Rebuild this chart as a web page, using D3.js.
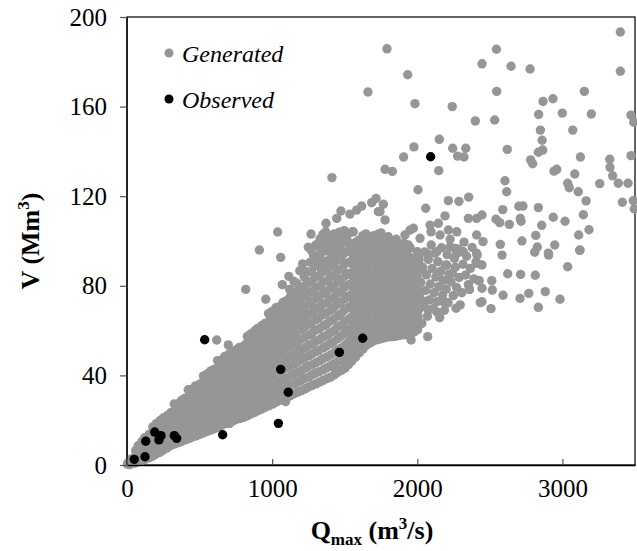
<!DOCTYPE html>
<html>
<head>
<meta charset="utf-8">
<script src="https://cdn.jsdelivr.net/npm/d3@7"></script>
<style>
  html, body { margin: 0; padding: 0; background: #fff; }
  svg { display: block; }
  text { font-family: "Liberation Serif", "Times New Roman", serif; }
</style>
</head>
<body>
<svg id="chart" width="637" height="551"></svg>
<script>
// ---------------- data (Qmax in m3/s, V in Mm3) ----------------
const xTicks = [0, 1000, 2000, 3000];
const yTicks = [0, 40, 80, 120, 160, 200];
const legendLabels = ["Generated", "Observed"];

// dense core of generated events, Q 0-1500
const generatedCore = [
[3,0.4],[9,1.1],[16,0.2],[22,0.3],[28,2.6],[33,1.4],[44,3.1],[57,0.9],[63,3.8],[60,6.4],
[97,1.6],[103,4.9],[99,8.3],[104,10.6],[148,3.2],[153,6.7],[147,10.1],[152,13.6],
[198,4.8],[203,8.1],[197,11.7],[204,15.2],[200,18.4],[248,6.6],[253,10.2],[247,13.9],[252,17.4],[249,21],
[302,8.7],[297,12.3],[303,15.9],[298,19.6],[301,23.3],[348,9.9],[353,13.6],[347,17.3],[352,21],[349,24.6],[354,27.4],
[402,11.2],[397,14.9],[403,18.6],[398,22.3],[401,26],[396,29.7],
[448,12.4],[453,16.1],[447,19.9],[452,23.6],[449,27.3],[454,31],[450,33.8],
[502,13.7],[497,17.4],[503,21.2],[498,24.9],[501,28.7],[496,32.4],[502,36.1],
[548,14.9],[553,18.7],[547,22.4],[552,26.2],[549,30],[554,33.7],[548,37.5],[551,40.6],
[602,16.2],[597,20],[603,23.8],[598,27.6],[601,31.4],[596,35.2],[603,39],[599,42.7],
[648,17.6],[653,21.4],[647,25.3],[652,29.1],[649,33],[654,36.8],[648,40.6],[651,44.4],[655,47],
[702,19.2],[697,23.1],[703,27],[698,30.9],[701,34.8],[696,38.7],[703,42.6],[699,46.4],[704,49.6],
[748,20.2],[753,24.1],[747,28.1],[752,32],[749,36],[754,39.9],[748,43.9],[751,47.8],[755,51.5],
[802,21.2],[797,25.2],[803,29.2],[798,33.2],[801,37.2],[796,41.2],[803,45.2],[799,49.2],[804,53.1],
[848,22.6],[853,26.7],[847,30.8],[852,34.9],[849,39],[854,43.1],[848,47.2],[851,51.3],[855,55.3],[850,58.4],
[902,24.2],[897,28.3],[903,32.5],[898,36.6],[901,40.8],[896,44.9],[903,49.1],[899,53.2],[904,57.3],[900,61],
[948,25.6],[953,29.8],[947,34],[952,38.2],[949,42.4],[954,46.6],[948,50.8],[951,55],[955,59.2],[950,63.2],
[1002,27.2],[997,31.4],[1003,35.7],[998,39.9],[1001,44.2],[996,48.4],[1003,52.7],[999,56.9],[1004,61.1],[1000,65.2],[996,68.4],
[1048,28.7],[1053,33],[1047,37.3],[1052,41.6],[1049,45.9],[1054,50.2],[1048,54.5],[1051,58.8],[1055,63.1],[1050,67.3],[1046,70.6],
[1102,30.2],[1097,34.6],[1103,39],[1098,43.4],[1101,47.8],[1096,52.2],[1103,56.6],[1099,61],[1104,65.3],[1100,69.6],[1096,73.2],
[1148,31.7],[1153,36.1],[1147,40.6],[1152,45.1],[1149,49.6],[1154,54.1],[1148,58.6],[1151,63],[1155,67.4],[1150,71.8],[1146,76],
[1202,33.2],[1197,37.7],[1203,42.3],[1198,46.9],[1201,51.5],[1196,56.1],[1203,60.7],[1199,65.2],[1204,69.7],[1200,74.2],[1196,78.6],
[1248,34.7],[1253,39.3],[1247,44],[1252,48.7],[1249,53.4],[1254,58.1],[1248,62.8],[1251,67.4],[1255,72],[1250,76.6],[1246,81.2],
[1302,36.2],[1297,40.9],[1303,45.7],[1298,50.5],[1301,55.3],[1296,60.1],[1303,64.9],[1299,69.6],[1304,74.3],[1300,79],[1296,83.7],
[1348,37.7],[1353,42.5],[1347,47.4],[1352,52.3],[1349,57.2],[1354,62.1],[1348,67],[1351,71.8],[1355,76.6],[1350,81.4],[1346,86.2],[1352,89],
[1402,39.2],[1397,44.1],[1403,49.1],[1398,54.1],[1401,59.1],[1396,64.1],[1403,69.1],[1399,74],[1404,78.9],[1400,83.8],[1396,88.6],[1401,91.8],
[1448,41.2],[1453,46.2],[1447,51.3],[1452,56.4],[1449,61.5],[1454,66.6],[1448,71.7],[1451,76.7],[1455,81.7],[1450,86.7],[1446,91.6],[1452,94.8],
[1502,43.2],[1497,48.3],[1503,53.5],[1498,58.7],[1501,63.9],[1496,69.1],[1503,74.3],[1499,79.4],[1504,84.5],[1500,89.6],[1496,94.6]
];

// further generated events filling the core, Q 75-1975
const generatedCoreB = [
[76,2.4],[74,5.6],[77,8.6],[126,2.5],[124,5.8],[127,9.2],[123,12.2],
[176,3.9],[174,7.4],[177,10.9],[173,14.4],[178,17],[226,5.6],[224,9.2],[227,12.8],[223,16.4],[228,19.8],
[276,7.6],[274,11.2],[277,14.9],[273,18.5],[278,22.1],[326,9.3],[324,12.9],[327,16.6],[323,20.3],[328,24],[325,27.2],
[376,10.5],[374,14.2],[377,17.9],[373,21.6],[378,25.3],[375,28.8],
[426,11.8],[424,15.5],[427,19.2],[423,23],[428,26.7],[425,30.4],[422,33.6],
[476,13],[474,16.8],[477,20.5],[473,24.3],[478,28],[475,31.8],[472,35.3],
[526,14.3],[524,18],[527,21.8],[523,25.6],[528,29.4],[525,33.2],[522,37],[527,39.8],
[576,15.5],[574,19.3],[577,23.1],[573,26.9],[578,30.7],[575,34.5],[572,38.3],[577,42],
[626,16.9],[624,20.7],[627,24.5],[623,28.4],[628,32.2],[625,36],[622,39.9],[627,43.7],[624,46.6],
[676,18.4],[674,22.3],[677,26.2],[673,30],[678,33.9],[675,37.8],[672,41.6],[677,45.5],[674,48.5],
[726,19.6],[724,23.6],[727,27.6],[723,31.5],[728,35.4],[725,39.3],[722,43.3],[727,47.2],[724,50.8],
[776,20.7],[774,24.7],[777,28.7],[773,32.7],[778,36.6],[775,40.6],[772,44.6],[777,48.5],[774,52.5],
[826,21.9],[824,25.9],[827,30],[823,34],[828,38.1],[825,42.1],[822,46.2],[827,50.2],[824,54.2],[829,57.4],
[876,23.4],[874,27.5],[877,31.6],[873,35.7],[878,39.8],[875,43.9],[872,48],[877,52.1],[874,56.2],[879,59.8],
[926,24.9],[924,29],[927,33.2],[923,37.4],[928,41.6],[925,45.8],[922,49.9],[927,54.1],[924,58.3],[929,62.2],
[976,26.4],[974,30.6],[977,34.8],[973,39],[978,43.3],[975,47.5],[972,51.8],[977,56],[974,60.2],[979,64.2],[975,67.6],
[1026,28],[1024,32.2],[1027,36.5],[1023,40.8],[1028,45.1],[1025,49.3],[1022,53.6],[1027,57.9],[1024,62.1],[1029,66.3],[1025,70.2],
[1076,29.5],[1074,33.8],[1077,38.2],[1073,42.5],[1078,46.9],[1075,51.2],[1072,55.6],[1077,59.9],[1074,64.2],[1079,68.5],[1075,72.6],
[1126,31],[1124,35.4],[1127,39.8],[1123,44.2],[1128,48.7],[1125,53.1],[1122,57.6],[1127,62],[1124,66.4],[1129,70.8],[1125,75.1],[1121,78.4],
[1176,32.5],[1174,37],[1177,41.5],[1173,46],[1178,50.5],[1175,55],[1172,59.6],[1177,64.1],[1174,68.6],[1179,73],[1175,77.4],[1171,81],
[1226,34],[1224,38.6],[1227,43.2],[1223,47.8],[1228,52.4],[1225,57],[1222,61.6],[1227,66.2],[1224,70.8],[1229,75.4],[1225,79.9],[1221,83.8],
[1276,35.5],[1274,40.2],[1277,44.8],[1273,49.5],[1278,54.2],[1275,58.9],[1272,63.5],[1277,68.2],[1274,72.9],[1279,77.5],[1275,82.1],[1271,86.2],
[1326,37],[1324,41.7],[1327,46.5],[1323,51.3],[1328,56.1],[1325,60.9],[1322,65.7],[1327,70.4],[1324,75.2],[1329,79.9],[1325,84.6],[1321,88.6],
[1376,38.5],[1374,43.3],[1377,48.2],[1373,53.1],[1378,58],[1375,62.9],[1372,67.8],[1377,72.6],[1374,77.5],[1379,82.3],[1375,87.1],[1371,91],
[1426,40.2],[1424,45.1],[1427,50.1],[1423,55.1],[1428,60.1],[1425,65.1],[1422,70.1],[1427,75],[1424,80],[1429,84.9],[1425,89.8],[1421,93.6],
[1476,42.2],[1474,47.2],[1477,52.3],[1473,57.4],[1478,62.5],[1475,67.6],[1472,72.7],[1477,77.7],[1474,82.8],[1479,87.8],[1475,92.8],[1471,96.5],
[1526,44.8],[1524,49.9],[1527,55],[1523,60.1],[1528,65.2],[1525,70.3],[1522,75.4],[1527,80.5],[1524,85.5],[1529,90.5],[1525,95.4],[1521,99],
[1576,48.2],[1574,53.4],[1577,58.6],[1573,63.8],[1578,69],[1575,74.2],[1572,79.3],[1577,84.4],[1574,89.5],[1579,94.5],[1575,99.3],
[1626,51.8],[1624,57],[1627,62.2],[1623,67.4],[1628,72.6],[1625,77.8],[1622,83],[1627,88.1],[1624,93.2],[1629,98.1],[1625,102.4],
[1676,54.5],[1674,59.7],[1677,65],[1673,70.3],[1678,75.6],[1675,80.8],[1672,86],[1677,91.2],[1674,96.3],[1679,101.2],
[1726,56],[1724,61.3],[1727,66.7],[1723,72],[1728,77.3],[1725,82.6],[1722,87.9],[1727,93.1],[1724,98.3],[1729,103],
[1776,56.8],[1774,62.2],[1777,67.6],[1773,73],[1778,78.4],[1775,83.8],[1772,89.2],[1777,94.5],[1774,99.8],
[1826,57.3],[1824,62.8],[1827,68.3],[1823,73.8],[1828,79.3],[1825,84.8],[1822,90.2],[1827,95.7],
[1876,57.8],[1874,63.3],[1877,68.9],[1873,74.5],[1878,80.1],[1875,85.7],[1872,91.3],[1877,96.6],
[1926,58.2],[1924,63.9],[1927,69.6],[1923,75.3],[1928,81],[1925,86.7],[1922,92.3],
[1976,59.3],[1974,65.1],[1977,70.9],[1973,76.7],[1978,82.5],[1975,88.2]
];

// in-between generated events in the Q 1500-2000 band and along the upper edge of the core
const generatedFill = [
[1562,48.8],[1560,53.7],[1563,58.7],[1561,63.7],[1564,68.7],[1560,73.7],[1563,78.7],[1561,83.6],[1564,88.5],[1560,93.3],
[1612,52.8],[1610,57.9],[1613,63],[1611,68.1],[1614,73.2],[1610,78.3],[1613,83.3],[1611,88.3],[1614,93.3],[1610,98],
[1662,56],[1660,61.1],[1663,66.2],[1661,71.4],[1664,76.6],[1660,81.8],[1663,86.9],[1661,92],[1664,97],
[1712,58.1],[1710,63.4],[1713,68.7],[1711,74],[1714,79.2],[1710,84.4],[1713,89.6],[1711,94.8],[1714,99.8],
[1762,59],[1760,64.3],[1763,69.7],[1761,75.1],[1764,80.5],[1760,85.8],[1763,91.1],[1761,96.3],[1764,101.3],
[1812,59.9],[1810,65.4],[1813,70.9],[1811,76.4],[1814,81.9],[1810,87.3],[1813,92.7],[1811,98],
[1862,60.2],[1860,65.7],[1863,71.3],[1861,76.9],[1864,82.5],[1860,88],[1863,93.5],[1861,98.5],
[1912,60.9],[1910,66.6],[1913,72.3],[1911,78],[1914,83.6],[1910,89.2],[1913,94.8],
[1962,61.2],[1960,66.9],[1963,72.7],[1961,78.5],[1964,84.3],[1960,90],
[2012,63.4],[2010,69.3],[2013,75.2],[2011,81],[2014,86.9],[2010,92.5],
[1262,90.5],[1285,93.8],[1310,92.1],[1322,97.6],[1338,94.9],[1356,99.8],[1375,96.2],[1392,101.4],[1410,98.3],[1428,103.2],
[1446,99.6],[1462,103.9],[1480,100.7],[1497,104.6],[1515,102.2],[1290,88.9],[1335,91.7],[1380,95.5],[1420,97.8],[1460,101.2],
[1240,86.3],[1270,95.8],[1300,98.2],[1350,103],[1330,101],[1070,80.5],[1115,84.2],[1150,81.9],[1190,86.7],[1210,89.8]
];

// medium density band, Q 1500-2430
const generatedMid = [
[1548,46.3],[1553,51.2],[1547,56.2],[1552,61.2],[1549,66.2],[1554,71.2],[1548,76.2],[1551,81.1],[1555,86],[1550,90.9],[1546,95.7],[1553,98.6],
[1602,50.2],[1597,55.3],[1603,60.4],[1598,65.5],[1601,70.6],[1596,75.7],[1603,80.8],[1599,85.8],[1604,90.8],[1600,95.8],[1596,100.3],
[1648,53.4],[1653,58.5],[1647,63.6],[1652,68.8],[1649,74],[1654,79.2],[1648,84.3],[1651,89.4],[1655,94.5],[1650,99.5],[1646,103.2],
[1702,55.5],[1697,60.7],[1703,66],[1698,71.3],[1701,76.6],[1696,81.8],[1703,87],[1699,92.2],[1704,97.3],[1700,102.2],
[1748,56.3],[1753,61.6],[1747,67],[1752,72.4],[1749,77.8],[1754,83.1],[1748,88.4],[1751,93.7],[1755,98.9],[1750,103.6],
[1802,57.2],[1797,62.6],[1803,68.1],[1798,73.6],[1801,79.1],[1796,84.6],[1803,90],[1799,95.4],[1804,100.7],
[1848,57.4],[1853,62.9],[1847,68.5],[1852,74.1],[1849,79.7],[1854,85.2],[1848,90.7],[1851,96.2],[1855,100.8],
[1902,58.1],[1897,63.7],[1903,69.4],[1898,75.1],[1901,80.8],[1896,86.4],[1903,92],[1899,97.5],
[1948,58.3],[1953,64],[1947,69.8],[1952,75.6],[1949,81.4],[1954,87.1],[1948,92.8],[1951,96.9],
[2002,60.4],[2006,66.3],[1997,72.2],[2003,78.1],[1999,84],[2005,89.8],[2001,95.2],
[2012,91.5],[2018,74.6],[2024,81.5],[2031,63.2],[2037,88.3],[2044,70.9],[2050,95.1],[2057,77.9],[2063,84.9],[2070,66.4],
[2076,91.8],[2083,73.7],[2089,80.8],[2096,98.2],[2102,87.7],[2109,69.8],[2115,76.9],[2122,94.6],[2128,83.9],[2135,72.9],
[2141,90.8],[2148,79.6],[2154,65.8],[2161,86.5],[2167,97],[2174,75.7],[2180,82.4],[2187,69.1],[2193,89.2],[2199,78.5],
[2206,93.9],[2212,72.4],[2219,85.2],[2226,100.8],[2232,81.8],[2241,85.6],[2248,75.6],[2256,92.2],[2262,88.3],[2270,79.3],
[2279,96.5],[2288,83.7],[2296,71.5],[2306,76.9],[2315,89.6],[2322,99.5],[2333,84.8],[2340,93.2],[2352,80.5],[2359,78.4],
[2366,87.8],[2378,97.1],[2390,83.1],[2404,90.6],[2412,93.7],[2425,82.3]
];

// scattered generated events (upper cloud and lower-right edge)
const generatedSparse = [
[1791,185.8],[2446,179.1],[1934,174.2],[1660,166.5],[1984,161.3],[2241,160],[2400,153.6],[2152,145.4],
[2545,185.6],[2646,178],[2777,176.8],[3399,193.3],[3399,175.8],[2547,166.8],[3151,166.8],[2866,162.3],[2935,163.5],
[2533,154],[2836,156.5],[2999,157.1],[3199,156.7],[3472,156.2],[3491,153],[2848,149.5],[3071,149.5],[2860,145],
[2781,136.2],[2795,134.5],[2834,139.6],[2864,140.6],[2620,140.9],[1977,142],[2244,141.4],[2334,141.4],[2278,137.9],[2322,137.5],
[1906,137.5],[2148,131.4],[1778,132],[1828,131.1],[3124,137.5],[3326,136.5],[3328,132.9],[3346,129.1],[3473,138.1],
[3385,125.8],[3452,125.8],[3257,125.6],[2942,131.2],[2961,132],[3085,129.9],[3036,125.8],[3047,123.8],[3109,122],
[2604,126.9],[2616,122],[2005,122.9],[3413,117.3],[3488,118],[3495,114.3],[3163,117.9],[3144,111.7],[3183,105],
[2937,110.6],[3018,108.8],[2834,114.9],[2857,107],[2699,115.5],[2728,115.6],[2589,114],[2542,109.7],[2568,108.2],
[2634,107.4],[2710,110.1],[2715,108.8],[2446,111.6],[2453,99.7],[2572,98.5],[2584,93.7],[2721,100],[2816,102.5],
[2827,97.3],[2809,95],[2903,94.6],[2947,98.2],[3119,95.8],[3112,102.7],
[1412,128.3],[1038,104],[1268,103.1],[1369,104.1],[1371,107.9],[1445,110.1],[1474,113.4],[1536,112],[1582,113.8],
[1617,115.6],[1686,117.1],[1716,119],[1732,113.1],[1559,104.1],[1697,102.2],[1766,116.4],[1743,113.1],[1778,109.4],
[2058,114.6],[2214,118],[2287,117.7],[2354,119.6],[2191,111.2],[2352,110.1],[2409,110.1],[2088,107.1],[2145,107.9],
[2095,104.1],[2157,102.7],[2214,104.9],[2272,104.1],[2409,102.7],[1950,104.9],[1973,105.7],[1915,102.7],[2019,101.2],
[1908,99],[1938,98.2],[1766,101.2],[1552,104.1],[1490,99.7],[1536,99],[1399,96.7],[1445,96],[1548,95],[1697,95.2],
[1812,98.2],[1847,96],[1927,94.5],[2007,93.7],[2065,94.5],[2134,95.2],[2225,97.4],[2260,96.7],[2317,95.2],[2409,94.5],
[1755,101.2],[1800,101.9],
[1957,55.8],[2072,57.3],[1847,57.6],[2267,70],[2508,69.8],[2834,70.4],[2983,74],[2882,77.4],[2708,74.4],[2768,76.6],
[2591,75.8],[2434,72.5],[2623,85.4],[2712,85.1],[2813,84.7],[3036,88.5],[3121,96],[2513,82.3],[2446,78.9],[2517,78.1],
[2425,82.3],[2412,90],[2272,94.5],[2306,95.2],[2359,78.4],[2179,72.9],[2203,89.3],[2145,84.8],[2134,68.4],[2076,69.2],
[2053,72.9],[1996,70],[1962,60.3],[1938,61.7],[1800,60.3],[1893,63.3],[1732,67.7],[1732,58.8],[2905,93.7],[2446,72.9],
[2446,89.3],[1686,59.2],[1812,59.5],[1881,60.3],[1938,59.8],[1582,53.6],[1502,44.6],[1433,43.2],
[618,55.8],[698,53.6],[818,78.4],[956,74],[912,96],[1059,92.7],[1249,97.2],[1093,28.3],[706,18.5]
];

// observed events
const observed = [
[50,2.5],[124,3.7],[129,10.6],[191,14.7],[234,13.1],[220,11.2],[326,13.1],[342,11.9],
[535,55.9],[659,13.5],[1043,18.6],[1059,42.7],[1111,32.5],[1463,50.3],[1624,56.6],[2092,137.6]
];

// ---------------- drawing ----------------
const svg = d3.select("#chart");
const plotL = 127, plotR = 635, plotT = 17, plotB = 465;
const x = d3.scaleLinear().domain([0, 3500]).range([plotL, plotR]);
const y = d3.scaleLinear().domain([0, 200]).range([plotB, plotT]);
const grey = "#969696";
const r = 4.7;

// frame (top and right)
svg.append("rect")
  .attr("x", plotL).attr("y", plotT)
  .attr("width", plotR - plotL).attr("height", plotB - plotT)
  .attr("fill", "none").attr("stroke", "#000").attr("stroke-width", 1.2);

const generated = generatedCore.concat(generatedCoreB, generatedFill, generatedMid, generatedSparse);
svg.append("g").selectAll("circle").data(generated).join("circle")
  .attr("cx", d => x(d[0])).attr("cy", d => y(d[1])).attr("r", r)
  .attr("fill", grey);

svg.append("g").selectAll("circle").data(observed).join("circle")
  .attr("cx", d => x(d[0])).attr("cy", d => y(d[1])).attr("r", r)
  .attr("fill", "#000");

// axes
const yAxis = svg.append("g").attr("transform", `translate(${plotL},0)`)
  .call(d3.axisLeft(y).tickValues(yTicks).tickSize(7).tickPadding(13).tickFormat(d3.format("d")));
const xAxis = svg.append("g").attr("transform", `translate(0,${plotB})`)
  .call(d3.axisBottom(x).tickValues(xTicks).tickSizeInner(-6).tickSizeOuter(0).tickPadding(14).tickFormat(d3.format("d")));
[yAxis, xAxis].forEach(g => {
  g.attr("font-family", null);
  g.select(".domain").attr("stroke", "#000").attr("stroke-width", 1.3);
  g.selectAll(".tick line").attr("stroke", "#555").attr("stroke-width", 1.2);
  g.selectAll(".tick text").attr("fill", "#000").style("font-size", "25px")
    .style("font-family", '"Liberation Serif", "Times New Roman", serif');
});
yAxis.select(".domain").attr("d", `M0,${plotT}V${plotB}`);

// axis titles
const xt = svg.append("text").attr("x", 372).attr("y", 539)
  .attr("text-anchor", "middle").style("font-size", "26px").style("font-weight", "bold");
xt.append("tspan").text("Q");
xt.append("tspan").attr("dy", 6).style("font-size", "17px").text("max");
xt.append("tspan").attr("dy", -6).text(" (m");
xt.append("tspan").attr("dy", -10).style("font-size", "17px").text("3");
xt.append("tspan").attr("dy", 10).text("/s)");

const yt = svg.append("text").attr("transform", "translate(39,241) rotate(-90)")
  .attr("text-anchor", "middle").style("font-size", "26px").style("font-weight", "bold");
yt.append("tspan").text("V (Mm");
yt.append("tspan").attr("dy", -10).style("font-size", "17px").text("3");
yt.append("tspan").attr("dy", 10).text(")");

// legend
const legendColors = [grey, "#000"];
const legendY = [53, 99];
legendLabels.forEach((lab, i) => {
  svg.append("circle").attr("cx", 169).attr("cy", legendY[i]).attr("r", 4.5).attr("fill", legendColors[i]);
  svg.append("text").attr("x", 182).attr("y", legendY[i] + 8.5)
    .style("font-size", "24px").style("font-style", "italic").text(lab);
});
</script>
</body>
</html>
